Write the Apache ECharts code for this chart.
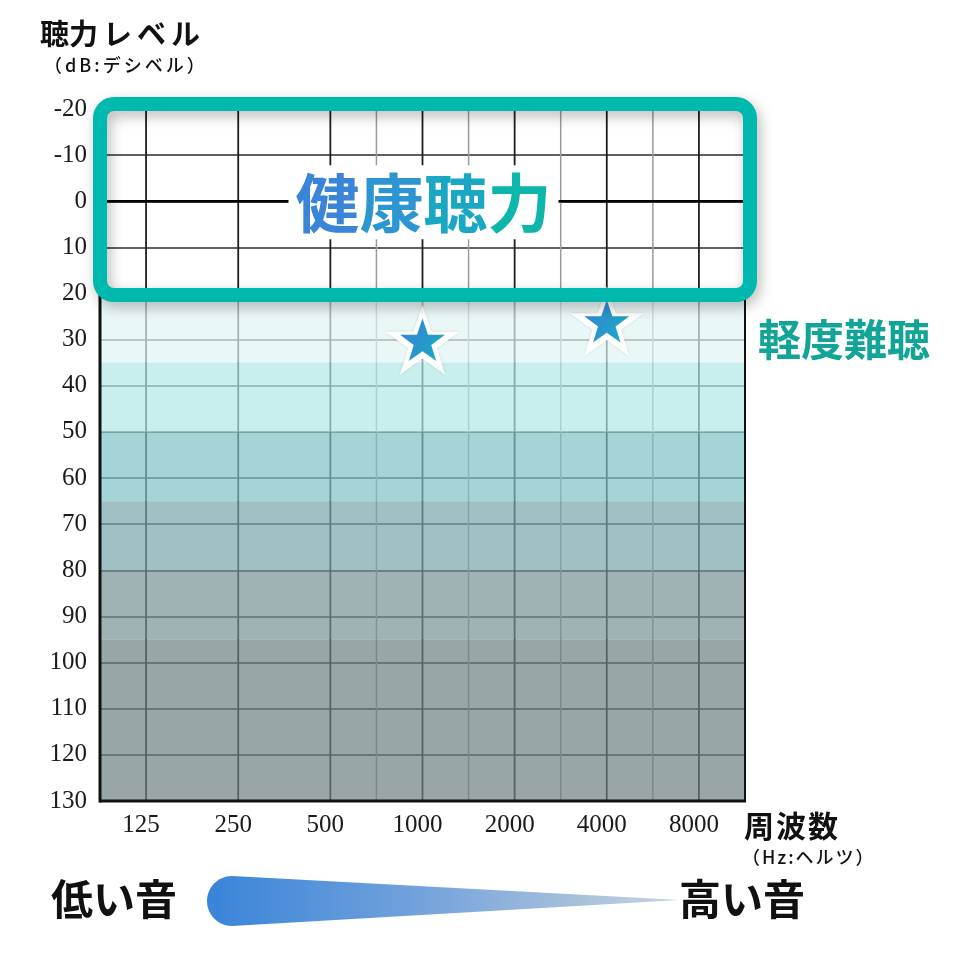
<!DOCTYPE html>
<html><head><meta charset="utf-8">
<script src="https://cdn.jsdelivr.net/npm/echarts@6/dist/echarts.min.js"></script>
<style>html,body{margin:0;padding:0;background:#fff}#c{width:955px;height:960px}</style>
</head><body><div id="c"></div>
<script>
// ---- data ----
const freqLabels = ['125', '250', '500', '1000', '2000', '4000', '8000'];
const freqPos = [1, 3, 5, 7, 9, 11, 13];          // half-octave positions on the x scale
const minorFreqPos = [6, 8, 10, 12];              // 750, 1500, 3000, 6000 Hz
const bandEdges = [20, 35, 50, 65, 80, 95, 130];  // dB HL
const bandColors = ['#eaf7f7', '#c9eeee', '#a4d4d5', '#a0c1c3', '#9fb2b4', '#98a6a6'];
const starFreqPos = [7, 11];                      // 1000 Hz, 4000 Hz
const starLevels = [30, 26];                      // dB HL
const healthyRange = [-20, 20];
const zeroLevel = [0];

const JP = '"Noto Sans CJK JP"';
const SERIF = '"Liberation Serif"';
const labelMap = {};
freqPos.forEach((p, i) => { labelMap[p] = freqLabels[i]; });

const BAND_ALPHA = 0.7;
function underlay(hex) {
  const a = BAND_ALPHA;
  const v = [1, 3, 5].map(k => parseInt(hex.slice(k, k + 2), 16));
  const c = v.map(x => Math.max(0, Math.min(255, Math.round((x - (1 - a) * 255) / a))));
  return 'rgba(' + c.join(',') + ',' + a + ')';
}

const STAR = 'path://M50,0 L61.8,35.1 L98.1,35.1 L68.7,56.7 L79.4,91 L50,70 L20.6,91 L31.3,56.7 L1.9,35.1 L38.2,35.1 Z';
const starData = starFreqPos.map((x, i) => [x, starLevels[i]]);

const chart = echarts.init(document.getElementById('c'));
chart.setOption({
  animation: false,
  backgroundColor: '#ffffff',
  grid: { left: 100, right: 210, top: 109, bottom: 159, containLabel: false },
  xAxis: {
    type: 'value', min: 0, max: 14, interval: 1,
    axisLine: { show: false }, axisTick: { show: false }, splitLine: { show: false },
    axisLabel: {
      formatter: v => labelMap[v] || '',
      fontFamily: SERIF, fontSize: 25, color: '#1a1a1a', margin: 12,
      padding: [0, 10, 0, 0]
    }
  },
  yAxis: {
    type: 'value', inverse: true, min: -20, max: 130, interval: 10,
    axisLine: { show: false }, axisTick: { show: false },
    axisLabel: { fontFamily: SERIF, fontSize: 25, color: '#1a1a1a', margin: 13 },
    splitLine: { show: true, lineStyle: { color: '#2b2b2b', width: 1.5 } }
  },
  series: [
    {
      type: 'custom', name: 'vlines', z: 1, silent: true,
      data: freqPos.map(p => [p, 1]).concat(minorFreqPos.map(p => [p, 0])),
      renderItem: (params, api) => {
        const x = api.value(0), major = api.value(1);
        const p1 = api.coord([x, healthyRange[0]]);
        const p2 = api.coord([x, bandEdges[bandEdges.length - 1]]);
        return { type: 'line', shape: { x1: p1[0], y1: p1[1], x2: p2[0], y2: p2[1] },
          style: { stroke: major ? '#1e1e1e' : '#9b9b9b', lineWidth: major ? 1.8 : 1.5 } };
      }
    },
    {
      type: 'custom', name: 'zero', z: 1, silent: true,
      data: zeroLevel.map(v => [v]),
      renderItem: (params, api) => {
        const v = api.value(0);
        const p1 = api.coord([0, v]), p2 = api.coord([14, v]);
        return { type: 'line', shape: { x1: p1[0], y1: p1[1], x2: p2[0], y2: p2[1] },
          style: { stroke: '#000', lineWidth: 2.6 } };
      }
    },
    {
      type: 'custom', name: 'bands', z: 2, silent: true,
      data: bandColors.map((c, i) => [bandEdges[i], bandEdges[i + 1], i]),
      renderItem: (params, api) => {
        const p1 = api.coord([0, api.value(0)]);
        const p2 = api.coord([14, api.value(1)]);
        return { type: 'rect', shape: { x: p1[0], y: p1[1], width: p2[0] - p1[0], height: p2[1] - p1[1] },
          style: { fill: underlay(bandColors[api.value(2)]) } };
      }
    },
    {
      type: 'custom', name: 'frame', z: 3, silent: true,
      data: [[healthyRange[1], bandEdges[bandEdges.length - 1]]],
      renderItem: (params, api) => {
        const a = api.coord([0, api.value(0)]);
        const b = api.coord([0, api.value(1)]);
        const c = api.coord([14, api.value(1)]);
        const d = api.coord([14, api.value(0)]);
        return { type: 'group', children: [
          { type: 'line', shape: { x1: a[0], y1: a[1], x2: b[0], y2: b[1] + 1.5 }, style: { stroke: '#111', lineWidth: 3 } },
          { type: 'line', shape: { x1: b[0], y1: b[1], x2: c[0] + 1, y2: c[1] }, style: { stroke: '#111', lineWidth: 3 } },
          { type: 'line', shape: { x1: d[0], y1: d[1], x2: c[0], y2: c[1] }, style: { stroke: '#111', lineWidth: 2 } }
        ] };
      }
    },
    {
      type: 'scatter', name: 'starOutline', z: 5, silent: true,
      data: starData, symbol: STAR, symbolSize: 74, symbolKeepAspect: true,
      itemStyle: { color: '#ffffff', opacity: 1, shadowBlur: 3, shadowColor: 'rgba(0,0,0,0.12)' }
    },
    {
      type: 'scatter', name: 'star', z: 6, silent: true,
      data: starData, symbol: STAR, symbolSize: 45, symbolKeepAspect: true,
      itemStyle: {
        opacity: 1,
        color: { type: 'linear', x: 0, y: 0, x2: 1, y2: 0.6,
          colorStops: [{ offset: 0, color: '#3d7fd8' }, { offset: 1, color: '#19a8c4' }] }
      }
    }
  ]
});

const px = v => chart.convertToPixel({ gridIndex: 0 }, v);
const tl = px([0, healthyRange[0]]);
const br = px([14, healthyRange[1]]);
const mid = px([freqPos[3], zeroLevel[0]]);
const mild = px([14, 30]);

function tok(fill, size, weight) {
  const w = weight || 'bold';
  return { fill: fill, fontSize: size, fontWeight: w, fontFamily: JP, font: w + ' ' + size + 'px ' + JP };
}
function spaced(fill, size, weight, pad) {
  return Object.assign(tok(fill, size, weight), { padding: [0, 0, 0, pad] });
}

// wedge (low → high pitch) outline: triangle with rounded left cap
const wedgePts = [[232, 876], [680, 900], [232, 926]];
for (let k = 1; k < 24; k++) {
  const t = Math.PI / 2 + Math.PI * k / 24;
  wedgePts.push([232 + 25 * Math.cos(t), 901 + 25 * Math.sin(t)]);
}

chart.setOption({
  graphic: [
    {
      type: 'rect', z: 20,
      shape: { x: tl[0], y: tl[1] - 5, width: br[0] - tl[0] + 5, height: br[1] - tl[1] + 6.5, r: 14 },
      style: { fill: 'none', stroke: '#00b9ae', lineWidth: 14,
        shadowBlur: 14, shadowColor: 'rgba(0,0,0,0.28)', shadowOffsetX: 3, shadowOffsetY: 5 }
    },
    {
      type: 'text', z: 21, x: mid[0] + 1, y: mid[1] + 1,
      style: {
        text: '{a|健}{b|康}{c|聴}{d|力}',
        align: 'center', verticalAlign: 'middle',
        backgroundColor: '#ffffff', padding: [2, 7, 2, 7], lineHeight: 70,
        font: 'bold 64px ' + JP,
        rich: { a: tok('#3b85d8', 64), b: tok('#2d96d2', 64), c: tok('#1aa7c3', 64), d: tok('#0db6ab', 64) }
      }
    },
    {
      type: 'text', z: 21, x: mild[0] + 13, y: mild[1],
      style: { text: '軽度難聴', font: 'bold 43px ' + JP, fill: '#12a597', align: 'left', verticalAlign: 'middle' }
    },
    {
      type: 'text', z: 21, x: 40, y: 34,
      style: {
        text: '{a|聴力}{k|レ}{k|ベ}{k|ル}', align: 'left', verticalAlign: 'middle', font: 'bold 29px ' + JP,
        rich: { a: tok('#111', 29), k: spaced('#111', 29, 'bold', 5) }
      }
    },
    {
      type: 'text', z: 21, x: 44, y: 65,
      style: {
        text: '{p|（}{s|d}{s|B}{s|:}{s|デ}{s|シ}{s|ベ}{s|ル}{s|）}', align: 'left', verticalAlign: 'middle',
        font: '500 18px ' + JP,
        rich: { p: tok('#111', 18, '500'), s: spaced('#111', 18, '500', 3) }
      }
    },
    {
      type: 'text', z: 21, x: 744, y: 826,
      style: {
        text: '{a|周}{k|波}{k|数}', align: 'left', verticalAlign: 'middle', font: 'bold 30px ' + JP,
        rich: { a: tok('#111', 30), k: spaced('#111', 30, 'bold', 2) }
      }
    },
    {
      type: 'text', z: 21, x: 742, y: 857,
      style: {
        text: '{p|（}{s|H}{s|z}{s|:}{s|ヘ}{s|ル}{s|ツ}{s|）}', align: 'left', verticalAlign: 'middle',
        font: '500 18px ' + JP,
        rich: { p: tok('#111', 18, '500'), s: spaced('#111', 18, '500', 2) }
      }
    },
    {
      type: 'text', z: 21, x: 114, y: 899,
      style: { text: '低い音', font: 'bold 42px ' + JP, fill: '#111', align: 'center', verticalAlign: 'middle' }
    },
    {
      type: 'text', z: 21, x: 742, y: 899,
      style: { text: '高い音', font: 'bold 42px ' + JP, fill: '#111', align: 'center', verticalAlign: 'middle' }
    },
    {
      type: 'polygon', z: 21,
      shape: { points: wedgePts },
      style: {
        fill: { type: 'linear', x: 0, y: 0, x2: 1, y2: 0, global: false,
          colorStops: [{ offset: 0, color: '#3884d9' }, { offset: 0.5, color: '#7aa6dc' }, { offset: 1, color: '#c9d4dc' }] }
      }
    }
  ]
});
</script>
</body></html>
